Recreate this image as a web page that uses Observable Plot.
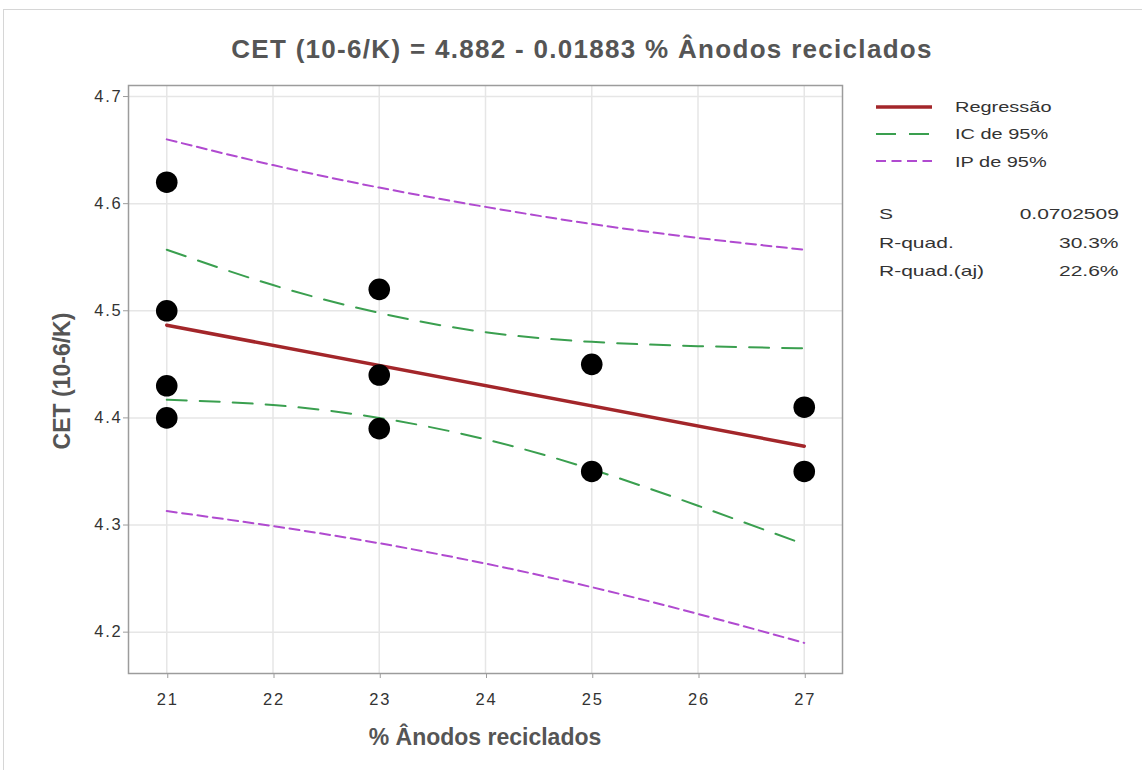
<!DOCTYPE html>
<html>
<head>
<meta charset="utf-8">
<script src="https://cdn.jsdelivr.net/npm/d3@7"></script>
<script src="https://cdn.jsdelivr.net/npm/@observablehq/plot@0.6"></script>
<style>
  body { margin: 0; background: #fff; font-family: "Liberation Sans", Arial, sans-serif; }
  #page { position: relative; width: 1142px; height: 770px; overflow: hidden; background: #fff; }
  #border { position: absolute; z-index: 5; left: 3px; top: 9px; width: 1145px; height: 770px; border-top: 1px solid #d6d6d6; border-left: 1px solid #d6d6d6; pointer-events: none; }
  #title { position: absolute; left: 0; width: 1164px; top: 34px; text-align: center; font-weight: bold; font-size: 26px; letter-spacing: 1.3px; color: #555; white-space: nowrap; }
  #xlabel { position: absolute; left: 128px; width: 714px; top: 724px; text-align: center; font-weight: bold; font-size: 23px; color: #555; }
  #ylabel { position: absolute; left: 62px; top: 381px; transform: translate(-50%, -50%) rotate(-90deg); white-space: nowrap; font-weight: bold; font-size: 23px; color: #555; }
  #chart { position: absolute; left: 0; top: 60px; }
  #chart text { letter-spacing: 1.8px; }
  #legend { position: absolute; left: 876px; top: 93px; font-size: 15px; color: #333; }
  .row { display: flex; align-items: center; height: 27.3px; }
  .row svg { width: 58px; height: 8px; margin-right: 21px; }
  .row span { display: inline-block; transform: scaleX(1.33); transform-origin: left center; }
  #stats { position: absolute; left: 879px; top: 205px; width: 240px; font-size: 15px; color: #333; }
  .stat { display: flex; justify-content: space-between; height: 28.7px; }
  .stat span { display: inline-block; transform: scaleX(1.4); }
  .stat span:first-child { transform-origin: left center; }
  .stat span:last-child { transform-origin: right center; }
</style>
</head>
<body>
<div id="page">
  <div id="border"></div>
  <div id="title"></div>
  <div id="chart"></div>
  <div id="xlabel"></div>
  <div id="ylabel"></div>
  <div id="legend"></div>
  <div id="stats"></div>
</div>
<script>
// Observations: % recycled anodes vs. thermal expansion coefficient
const pctAnodos = [21, 21, 21, 21, 23, 23, 23, 25, 25, 27, 27];
const cet = [4.62, 4.50, 4.43, 4.40, 4.52, 4.44, 4.39, 4.45, 4.35, 4.41, 4.35];

// Fitted line coefficients
const intercept = 4.882;
const slope = -0.01883;
const fitRange = [21, 27];

// 95% confidence (IC) and prediction (IP) bands
const bandX = [21, 22, 23, 24, 25, 26, 27];
const ciUpper = [4.557, 4.524, 4.498, 4.480, 4.471, 4.467, 4.465];
const ciLower = [4.417, 4.412, 4.400, 4.380, 4.352, 4.318, 4.282];
const piUpper = [4.660, 4.636, 4.615, 4.597, 4.581, 4.568, 4.557];
const piLower = [4.313, 4.299, 4.283, 4.264, 4.242, 4.217, 4.190];

// Axis ticks
const xTicks = [21, 22, 23, 24, 25, 26, 27];
const yTicks = [4.2, 4.3, 4.4, 4.5, 4.6, 4.7];

// Text
const titleText = "CET (10-6/K) = 4.882 - 0.01883 % Ânodos reciclados";
const xLabel = "% Ânodos reciclados";
const yLabel = "CET (10-6/K)";
const legendItems = [
  {label: "Regressão", color: "#a3262a", dash: null, width: 3.5},
  {label: "IC de 95%", color: "#3a9f4f", dash: "20,13", width: 2},
  {label: "IP de 95%", color: "#b04ad0", dash: "10,5.5", width: 2}
];
const statNames = ["S", "R-quad.", "R-quad.(aj)"];
const statValues = ["0.0702509", "30.3%", "22.6%"];

const points = pctAnodos.map((x, i) => ({x, y: cet[i]}));
const fit = fitRange.map(x => ({x, y: intercept + slope * x}));
const band = (ys) => bandX.map((x, i) => ({x, y: ys[i]}));

const ciStyle = {x: "x", y: "y", stroke: legendItems[1].color, strokeWidth: 2, strokeDasharray: legendItems[1].dash, curve: "natural"};
const piStyle = {x: "x", y: "y", stroke: legendItems[2].color, strokeWidth: 2, strokeDasharray: legendItems[2].dash, curve: "natural"};

const chart = Plot.plot({
  width: 860,
  height: 660,
  marginLeft: 128,
  marginTop: 25,
  marginRight: 18,
  marginBottom: 47,
  style: {fontFamily: "'Liberation Sans', Arial, sans-serif", fontSize: "16.5px", color: "#333", background: "transparent", overflow: "visible"},
  x: {domain: [20.64, 27.36]},
  y: {domain: [4.1614, 4.7103]},
  marks: [
    Plot.ruleX(xTicks, {stroke: "#e6e6e6", strokeWidth: 1.5}),
    Plot.ruleY(yTicks, {stroke: "#e6e6e6", strokeWidth: 1.5}),
    Plot.frame({stroke: "#9c9c9c", strokeWidth: 1.5}),
    Plot.axisX({ticks: xTicks, tickFormat: d => String(d), tickSize: 5, tickPadding: 15, stroke: "#9c9c9c", fill: "#333", label: null, dx: 1}),
    Plot.axisY({ticks: yTicks, tickFormat: d3.format(".1f"), tickSize: 5, tickPadding: 1, stroke: "#9c9c9c", fill: "#333", label: null}),
    Plot.line(band(piUpper), piStyle),
    Plot.line(band(piLower), piStyle),
    Plot.line(band(ciUpper), ciStyle),
    Plot.line(band(ciLower), ciStyle),
    Plot.line(fit, {x: "x", y: "y", stroke: legendItems[0].color, strokeWidth: 3.5}),
    Plot.dot(points, {x: "x", y: "y", r: 10.8, fill: "black", stroke: "none"})
  ]
});
document.getElementById("chart").appendChild(chart);

document.getElementById("title").textContent = titleText;
document.getElementById("xlabel").textContent = xLabel;
document.getElementById("ylabel").textContent = yLabel;

// Legend rows with line swatches
const legend = d3.select("#legend");
legendItems.forEach(item => {
  const row = legend.append("div").attr("class", "row");
  const sw = row.append("svg").attr("viewBox", "0 0 58 8");
  sw.append("line").attr("x1", 0).attr("x2", 56).attr("y1", 4).attr("y2", 4)
    .attr("stroke", item.color).attr("stroke-width", item.width)
    .attr("stroke-dasharray", item.dash);
  row.append("span").text(item.label);
});

// Fit statistics
const stats = d3.select("#stats");
statNames.forEach((name, i) => {
  const r = stats.append("div").attr("class", "stat");
  r.append("span").text(name);
  r.append("span").text(statValues[i]);
});
</script>
</body>
</html>
